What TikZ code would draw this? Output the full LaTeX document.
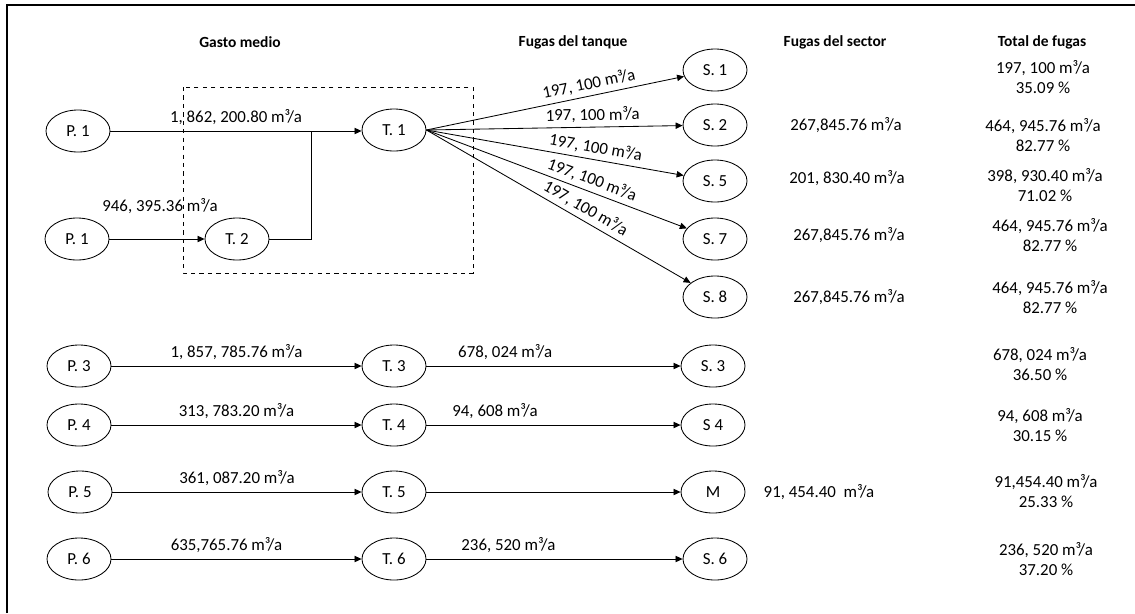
\documentclass[tikz,border=0pt]{standalone}
\usepackage{fontspec}
\setmainfont{Carlito}
\usepackage{tikz}
\usetikzlibrary{shapes.geometric, arrows.meta}

\tikzset{
  tank/.style={ellipse, draw, line width=0.6pt, minimum width=1.6cm, minimum height=1.05cm, inner sep=0pt},
  flow/.style={line width=0.6pt, -{Triangle[length=5pt,width=4.5pt]}},
  head/.style={font=\fontsize{11}{13}\selectfont\bfseries},
  val/.style={font=\fontsize{12}{14}\selectfont, inner sep=1pt},
}

\begin{document}
\begin{tikzpicture}[x=0.025cm, y=-0.025cm, font=\fontsize{12}{14}\selectfont]
\useasboundingbox (0,0) rectangle (1135,613);

% Frame
\draw[line width=1pt] (7,613) -- (7,5) -- (1135,5);

% Column headings
\node[head] (hgasto) at (240,42) {Gasto medio};
\node[head] (htanque) at (573,42) {Fugas del tanque};
\node[head] (hsector) at (835,42) {Fugas del sector};
\node[head] (htotal) at (1042,42) {Total de fugas};

% Wells, tanks and sectors
\node[tank] (P1a) at (78,131) {P. 1};
\node[tank] (P1b) at (77,239) {P. 1};
\node[tank] (T1) at (394,130) {T. 1};
\node[tank] (T2) at (237,239) {T. 2};
\node[tank] (S1) at (715,70) {S. 1};
\node[tank] (S2) at (715,125) {S. 2};
\node[tank] (S5) at (715,181) {S. 5};
\node[tank] (S7) at (715,239) {S. 7};
\node[tank] (S8) at (715,297) {S. 8};

\node[tank] (P3) at (79,366) {P. 3};
\node[tank] (T3) at (394,366) {T. 3};
\node[tank] (S3) at (713,366) {S. 3};
\node[tank] (P4) at (79,425) {P. 4};
\node[tank] (T4) at (394,425) {T. 4};
\node[tank] (S4) at (713,425) {S 4};
\node[tank] (P5) at (80,492) {P. 5};
\node[tank] (T5) at (394,492) {T. 5};
\node[tank] (M) at (713,492) {M};
\node[tank] (P6) at (79,559) {P. 6};
\node[tank] (T6) at (394,559) {T. 6};
\node[tank] (S6) at (715,559) {S. 6};

% Dashed group
\draw[dashed, line width=0.6pt] (183,87) rectangle (473,273);

% Supply to T. 1
\coordinate (junc) at (311,131);
\draw[flow] (P1a) -- node[val, above=3pt] {1, 862, 200.80 m³/a} (T1.west |- P1a);
\draw[flow] (P1b) -- (T2);
\draw[line width=0.6pt] (T2) -| (junc);
\node[val] (q2) at (160,206) {946, 395.36 m³/a};

% Leaks of T. 1
\draw[flow] (T1.east) -- node[val, sloped, above=2pt, pos=0.64] {197, 100 m³/a} (S1);
\draw[flow] (T1.east) -- node[val, sloped, above=2pt, pos=0.65] {197, 100 m³/a} (S2);
\draw[flow] (T1.east) -- node[val, sloped, above=2pt, pos=0.65] {197, 100 m³/a} (S5);
\draw[flow] (T1.east) -- node[val, sloped, above=2pt, pos=0.62] {197, 100 m³/a} (S7);
\draw[flow] (T1.east) -- node[val, sloped, above=2pt, pos=0.58] {197, 100 m³/a} (S8);

% Single lines
\draw[flow] (P3) -- node[val, above=3pt] {1, 857, 785.76 m³/a} (T3);
\draw[flow] (T3) -- node[val, above=3pt, pos=0.31] {678, 024 m³/a} (S3);
\draw[flow] (P4) -- node[val, above=3pt] {313, 783.20 m³/a} (T4);
\draw[flow] (T4) -- node[val, above=3pt, pos=0.27] {94, 608 m³/a} (S4);
\draw[flow] (P5) -- node[val, above=3pt] {361, 087.20 m³/a} (T5);
\draw[flow] (T5) -- (M);
\draw[flow] (P6) -- node[val, above=3pt, pos=0.46] {635,765.76 m³/a} (T6);
\draw[flow] (T6) -- node[val, above=3pt, pos=0.32] {236, 520 m³/a} (S6);

% Sector leaks
\node[val] (fs2) at (846,125) {267,845.76 m³/a};
\node[val] (fs5) at (847,178) {201, 830.40 m³/a};
\node[val] (fs7) at (849,235) {267,845.76 m³/a};
\node[val] (fs8) at (849,297) {267,845.76 m³/a};
\node[val] (fsm) at (819,492) {91, 454.40~~m³/a};

% Totals
\node[val, align=center] (tf1) at (1043,77) {197, 100 m³/a\\35.09 \%};
\node[val, align=center] (tf2) at (1043,135) {464, 945.76 m³/a\\82.77 \%};
\node[val, align=center] (tf5) at (1045,185) {398, 930.40 m³/a\\71.02 \%};
\node[val, align=center] (tf7) at (1050,235) {464, 945.76 m³/a\\82.77 \%};
\node[val, align=center] (tf8) at (1050,297) {464, 945.76 m³/a\\82.77 \%};
\node[val, align=center] (tf3) at (1040,364) {678, 024 m³/a\\36.50 \%};
\node[val, align=center] (tf4) at (1040,425) {94, 608 m³/a\\30.15 \%};
\node[val, align=center] (tfm) at (1046,491) {91,454.40 m³/a\\25.33 \%};
\node[val, align=center] (tf6) at (1046,559) {236, 520 m³/a\\37.20 \%};
\end{tikzpicture}
\end{document}
